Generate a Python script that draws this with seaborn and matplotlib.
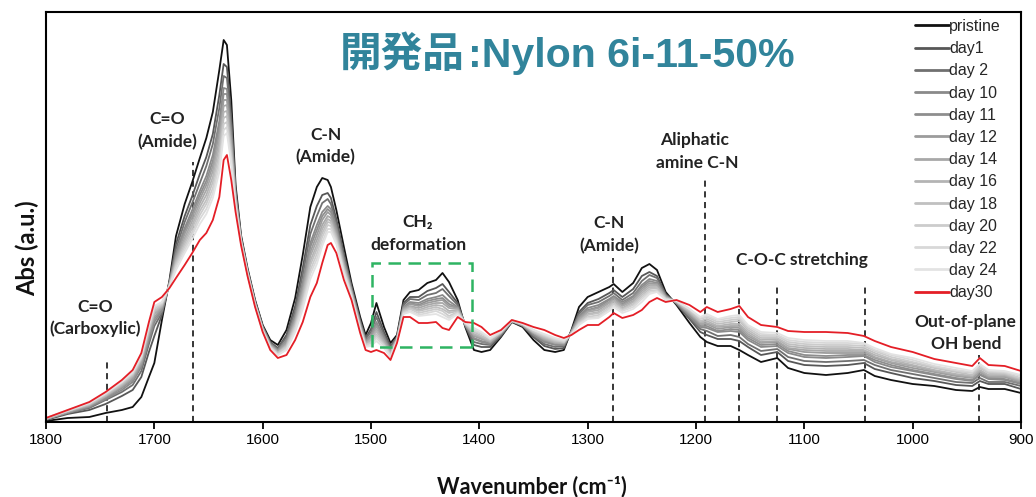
import numpy as np
import pandas as pd
import matplotlib
matplotlib.use("Agg")
import matplotlib.pyplot as plt
import seaborn as sns
from matplotlib.patches import Rectangle
from matplotlib.lines import Line2D

# ---------------- data (absorbance, milli a.u.) ----------------
wavenumber = [1800, 1780, 1760, 1745, 1730, 1720, 1712, 1705, 1700, 1693,
              1686, 1680, 1672, 1665, 1658, 1652, 1646, 1640, 1636, 1633,
              1629, 1625, 1620, 1614, 1607, 1600, 1593, 1586, 1578, 1570,
              1563, 1556, 1550, 1545, 1540, 1537, 1532, 1525, 1518, 1510,
              1505, 1500, 1495, 1488, 1482, 1476, 1470, 1464, 1456, 1448,
              1440, 1434, 1428, 1420, 1413, 1405, 1398, 1390, 1380, 1370,
              1360, 1350, 1340, 1330, 1322, 1315, 1308, 1300, 1290, 1280,
              1276, 1268, 1258, 1250, 1243, 1236, 1228, 1218, 1206, 1196,
              1190, 1180, 1168, 1160, 1152, 1140, 1125, 1115, 1100, 1080,
              1060, 1045, 1035, 1020, 1000, 980, 960, 945, 938, 930,
              915, 900]

pristine = [1, 4, 5, 9, 12, 15, 25, 45, 59, 102,
            142, 186, 218, 240, 264, 284, 310, 352, 382, 377,
            322, 237, 187, 154, 122, 97, 82, 77, 92, 124,
            167, 215, 235, 244, 242, 235, 212, 175, 139, 105,
            87, 99, 119, 95, 79, 87, 122, 130, 132, 139,
            142, 149, 140, 122, 95, 72, 70, 72, 85, 100,
            95, 82, 72, 70, 72, 92, 115, 125, 130, 135,
            138, 130, 139, 154, 158, 152, 130, 117, 99, 85,
            80, 76, 76, 72, 67, 60, 64, 54, 49, 47,
            49, 52, 46, 42, 38, 36, 32, 31, 35, 33,
            33, 29]

day1 = [2, 8, 12, 18, 26, 32, 45, 70, 86, 107,
        140, 178, 206, 226, 248, 265, 288, 327, 358, 355,
        306, 232, 185, 152, 121, 96, 80, 74, 87, 116,
        154, 197, 216, 227, 229, 224, 203, 168, 136, 102,
        84, 93, 110, 90, 76, 85, 119, 125, 125, 131,
        134, 138, 130, 119, 96, 77, 75, 75, 86, 100,
        96, 85, 76, 73, 74, 91, 110, 119, 123, 129,
        132, 125, 133, 146, 150, 146, 128, 118, 103, 90,
        87, 83, 83, 81, 75, 67, 70, 61, 57, 56,
        57, 59, 53, 49, 44, 41, 37, 36, 41, 38,
        38, 33]

day2 = [3, 9, 14, 22, 30, 37, 51, 78, 96, 109,
        140, 173, 200, 219, 239, 256, 278, 314, 346, 344,
        298, 229, 184, 152, 120, 95, 79, 73, 85, 111,
        147, 188, 206, 219, 223, 218, 199, 165, 134, 100,
        83, 90, 105, 87, 74, 85, 117, 123, 122, 127,
        129, 133, 126, 117, 97, 80, 78, 77, 87, 101,
        96, 86, 78, 75, 76, 91, 108, 117, 120, 126,
        129, 122, 129, 141, 147, 144, 127, 119, 104, 93,
        91, 86, 87, 85, 78, 71, 73, 65, 61, 60,
        61, 62, 57, 52, 48, 44, 40, 39, 44, 40,
        40, 36]

day10 = [3, 9, 15, 23, 32, 40, 55, 82, 100, 111,
         139, 169, 194, 212, 231, 246, 267, 301, 334, 333,
         290, 226, 183, 151, 119, 94, 78, 72, 82, 107,
         140, 179, 197, 210, 216, 213, 195, 162, 132, 99,
         81, 87, 100, 85, 72, 84, 115, 120, 119, 123,
         125, 127, 121, 115, 97, 83, 80, 78, 88, 101,
         97, 87, 80, 77, 77, 90, 106, 114, 117, 123,
         126, 120, 126, 137, 143, 141, 126, 119, 106, 95,
         94, 90, 91, 90, 82, 75, 76, 69, 65, 64,
         65, 66, 60, 55, 51, 47, 43, 41, 47, 43,
         42, 38]

day11 = [3, 10, 16, 24, 34, 42, 57, 85, 103, 112,
         138, 167, 191, 208, 227, 241, 261, 295, 328, 328,
         286, 225, 183, 150, 119, 94, 78, 71, 81, 105,
         137, 175, 192, 206, 213, 210, 193, 160, 131, 98,
         80, 86, 98, 83, 71, 83, 114, 119, 117, 121,
         123, 124, 118, 114, 97, 84, 81, 79, 88, 101,
         97, 88, 81, 78, 77, 90, 105, 112, 115, 122,
         125, 118, 125, 135, 141, 139, 126, 119, 107, 96,
         96, 91, 93, 92, 84, 77, 78, 71, 67, 66,
         67, 67, 62, 57, 52, 48, 44, 42, 48, 44,
         43, 39]

day12 = [3, 10, 16, 25, 35, 43, 58, 87, 105, 114,
         138, 165, 188, 205, 223, 237, 256, 289, 322, 322,
         282, 224, 182, 150, 119, 94, 77, 71, 80, 103,
         134, 170, 187, 202, 210, 207, 191, 159, 131, 97,
         80, 85, 96, 82, 71, 83, 114, 118, 116, 119,
         121, 122, 116, 114, 98, 86, 83, 80, 89, 101,
         97, 89, 82, 79, 78, 90, 104, 111, 114, 120,
         124, 117, 123, 133, 139, 138, 125, 120, 108, 98,
         98, 93, 95, 94, 86, 79, 80, 73, 70, 69,
         69, 69, 64, 59, 54, 50, 46, 44, 50, 45,
         45, 40]

day14 = [3, 10, 17, 26, 36, 45, 60, 89, 108, 115,
         138, 163, 184, 201, 219, 232, 251, 282, 316, 317,
         278, 222, 182, 150, 118, 93, 77, 70, 78, 101,
         130, 166, 182, 197, 206, 204, 188, 157, 130, 96,
         79, 83, 93, 81, 70, 83, 113, 116, 114, 117,
         119, 119, 114, 113, 98, 87, 84, 80, 89, 101,
         97, 89, 83, 79, 79, 89, 102, 110, 112, 119,
         122, 116, 121, 131, 137, 137, 125, 120, 109, 99,
         99, 95, 96, 96, 88, 80, 81, 74, 72, 71,
         71, 71, 65, 60, 56, 51, 47, 45, 51, 46,
         46, 41]

day16 = [3, 11, 17, 26, 37, 46, 62, 91, 110, 116,
         137, 161, 181, 197, 215, 227, 245, 276, 310, 311,
         274, 221, 181, 149, 118, 93, 76, 69, 77, 99,
         127, 161, 177, 193, 203, 201, 186, 155, 129, 95,
         78, 82, 91, 79, 69, 82, 112, 115, 112, 115,
         117, 116, 111, 112, 98, 88, 85, 81, 89, 101,
         97, 90, 84, 80, 79, 89, 101, 108, 110, 117,
         121, 114, 120, 129, 135, 135, 124, 120, 110, 100,
         101, 96, 98, 98, 90, 82, 83, 76, 74, 73,
         73, 72, 67, 62, 57, 52, 48, 46, 52, 47,
         47, 42]

day18 = [4, 11, 18, 27, 38, 47, 63, 92, 111, 117,
         137, 159, 178, 194, 211, 222, 240, 269, 304, 306,
         270, 219, 181, 149, 117, 92, 76, 69, 76, 97,
         123, 157, 173, 189, 200, 199, 184, 154, 128, 95,
         77, 80, 88, 78, 68, 82, 111, 114, 111, 113,
         115, 113, 109, 111, 98, 90, 86, 82, 90, 101,
         98, 90, 85, 81, 80, 89, 100, 107, 109, 116,
         119, 113, 118, 127, 133, 134, 124, 120, 111, 101,
         103, 98, 100, 101, 92, 84, 84, 78, 76, 75,
         75, 74, 69, 63, 59, 54, 50, 47, 54, 49,
         48, 43]

day20 = [4, 11, 18, 28, 39, 48, 64, 94, 113, 118,
         136, 157, 175, 190, 207, 218, 234, 263, 298, 300,
         266, 218, 180, 148, 117, 92, 75, 68, 75, 95,
         120, 152, 168, 185, 197, 196, 182, 152, 127, 94,
         77, 79, 86, 77, 67, 81, 110, 113, 109, 111,
         113, 111, 106, 110, 99, 91, 88, 83, 90, 101,
         98, 91, 86, 82, 80, 88, 99, 105, 107, 114,
         118, 112, 117, 125, 131, 132, 123, 121, 112, 103,
         105, 100, 102, 103, 94, 86, 86, 80, 78, 77,
         77, 76, 71, 65, 60, 55, 51, 49, 55, 50,
         49, 44]

day22 = [4, 11, 19, 28, 40, 49, 65, 96, 115, 119,
         136, 155, 172, 187, 203, 213, 229, 257, 292, 295,
         262, 217, 180, 148, 117, 92, 75, 67, 73, 93,
         117, 148, 163, 180, 193, 193, 180, 150, 126, 93,
         76, 77, 84, 76, 66, 81, 109, 111, 107, 109,
         111, 108, 104, 109, 99, 92, 89, 83, 90, 102,
         98, 92, 87, 83, 81, 88, 98, 104, 105, 113,
         116, 111, 115, 123, 130, 131, 123, 121, 113, 104,
         106, 102, 104, 105, 96, 88, 87, 82, 80, 79,
         79, 78, 72, 67, 62, 56, 52, 50, 57, 51,
         50, 46]

day24 = [4, 12, 19, 29, 40, 50, 66, 97, 116, 120,
         136, 152, 169, 183, 198, 208, 224, 250, 286, 289,
         258, 215, 179, 148, 116, 91, 74, 67, 72, 90,
         113, 143, 158, 176, 190, 190, 178, 149, 125, 92,
         75, 76, 81, 74, 65, 81, 108, 110, 106, 107,
         108, 105, 102, 108, 99, 94, 90, 84, 91, 102,
         98, 92, 88, 84, 82, 88, 97, 103, 104, 111,
         115, 109, 113, 120, 128, 130, 122, 121, 113, 105,
         108, 103, 106, 107, 97, 90, 89, 84, 82, 81,
         81, 79, 74, 68, 64, 58, 54, 51, 58, 52,
         51, 47]

day30 = [4, 12, 20, 30, 42, 52, 69, 100, 120, 125,
         134, 144, 157, 169, 182, 189, 202, 225, 262, 267,
         242, 210, 177, 146, 115, 90, 72, 64, 67, 82,
         100, 125, 139, 159, 177, 179, 169, 142, 122, 89,
         72, 70, 72, 69, 62, 79, 105, 105, 99, 99,
         100, 94, 92, 105, 100, 99, 95, 87, 92, 102,
         99, 95, 92, 87, 84, 87, 92, 97, 97, 105,
         109, 104, 107, 112, 120, 124, 120, 122, 117, 110,
         115, 110, 113, 116, 105, 97, 95, 91, 90, 90,
         89, 86, 81, 75, 70, 63, 59, 56, 64, 57,
         56, 51]

series_names = ["pristine", "day1", "day 2", "day 10", "day 11", "day 12",
                "day 14", "day 16", "day 18", "day 20", "day 22", "day 24",
                "day30"]
series_values = [pristine, day1, day2, day10, day11, day12, day14, day16,
                 day18, day20, day22, day24, day30]

xticks = [1800, 1700, 1600, 1500, 1400, 1300, 1200, 1100, 1000, 900]

# marker lines (wavenumber, top height in milli a.u.)
marker_wn = [1744, 1664, 1277, 1192, 1160, 1125, 1044, 939]
marker_top = [64, 260, 164, 244, 135, 138, 139, 67]

# ---------------- styling ----------------
colors = ["#111111", "#575757", "#707070", "#8a8a8a", "#8e8e8e", "#9c9c9c",
          "#a8a8a8", "#b4b4b4", "#c0c0c0", "#cccccc", "#d8d8d8", "#e3e3e3",
          "#e41e26"]
palette = dict(zip(series_names, colors))

sns.set_theme(style="white")
plt.rcParams["font.family"] = ["Liberation Sans", "DejaVu Sans"]

df = pd.concat(
    [pd.DataFrame({"wn": wavenumber, "abs": np.array(v) / 1000.0, "series": n})
     for n, v in zip(series_names, series_values)],
    ignore_index=True)

W, H = 1036, 497
fig = plt.figure(figsize=(W / 100, H / 100), dpi=100)
ax = fig.add_axes([46 / W, 75 / H, 975 / W, 410 / H])

sns.lineplot(data=df, x="wn", y="abs", hue="series", hue_order=series_names,
             palette=palette, estimator=None, sort=True, linewidth=1.3,
             legend=False, ax=ax)

ax.set_xlim(1800, 900)
ax.set_ylim(0, 0.41)
ax.set_xticks(xticks)
ax.set_xticklabels([str(t) for t in xticks])
ax.set_yticks([])
ax.set_xlabel("")
ax.set_ylabel("")
for s in ax.spines.values():
    s.set_visible(True)
    s.set_color("black")
    s.set_linewidth(1.5)
ax.tick_params(axis="x", direction="out", length=5, width=1.3, pad=3,
               labelsize=11, colors="black", bottom=True)

# dashed marker lines
ax.vlines(marker_wn, 0, np.array(marker_top) / 1000.0, colors="black",
          linestyles=(0, (4, 3)), linewidth=1.1, zorder=1)

# CH2 box
ax.add_patch(Rectangle((1407, 0.075), 92, 0.084, fill=False,
                       edgecolor="#2eb463", linewidth=1.8,
                       linestyle=(0, (5, 3)), zorder=5))

# annotations
ann_font = dict(family=["Lato", "DejaVu Sans"], fontweight="bold",
                fontsize=12.5, color="#222222", ha="center", va="center")
annotations = [
    ("C=O", 1755, 0.115), ("(Carboxylic)", 1755, 0.093),
    ("C=O", 1688, 0.303), ("(Amide)", 1688, 0.280),
    ("C-N", 1542, 0.287), ("(Amide)", 1542, 0.265),
    ("CH\u2082", 1457, 0.200), ("deformation", 1456, 0.177),
    ("C-N", 1280, 0.199), ("(Amide)", 1280, 0.176),
    ("Aliphatic", 1201, 0.282), ("amine C-N", 1199, 0.259),
    ("C-O-C stretching", 1102, 0.162),
    ("Out-of-plane", 951, 0.100), ("OH bend", 951, 0.078),
]
for txt, xw, yv in annotations:
    ax.text(xw, yv, txt, **ann_font)

# legend
handles = [Line2D([], [], color=c, lw=2.0) for c in colors]
leg = ax.legend(handles, series_names, loc="upper left",
                bbox_to_anchor=(915 / W, 1 - 19 / H),
                bbox_transform=fig.transFigure, frameon=False,
                borderpad=0, borderaxespad=0, handlelength=2.15,
                handletextpad=0.0, labelspacing=0.45,
                prop={"family": "Liberation Sans", "size": 11.5})

# title
teal = "#31849b"
fig.text(340 / W, 1 - 67 / H, "開発品", family=["Noto Sans CJK JP", "DejaVu Sans"],
         fontweight="bold", fontsize=30, color=teal, ha="left", va="baseline")
fig.text(468 / W, 1 - 67 / H, ":Nylon 6i-11-50%", family=["Liberation Sans", "DejaVu Sans"],
         fontweight="bold", fontsize=29.6, color=teal, ha="left", va="baseline")

# axis labels
fig.text(27 / W, 1 - 248 / H, "Abs (a.u.)", rotation=90,
         family=["Lato", "DejaVu Sans"], fontweight="bold", fontsize=17,
         ha="center", va="center", color="#111111")
fig.text(532 / W, 1 - 487 / H, "Wavenumber (cm\u207b\u00b9)",
         family=["Lato", "DejaVu Sans"], fontweight="bold", fontsize=15.5,
         ha="center", va="center", color="#111111")

fig.savefig("out.png", dpi=100)
